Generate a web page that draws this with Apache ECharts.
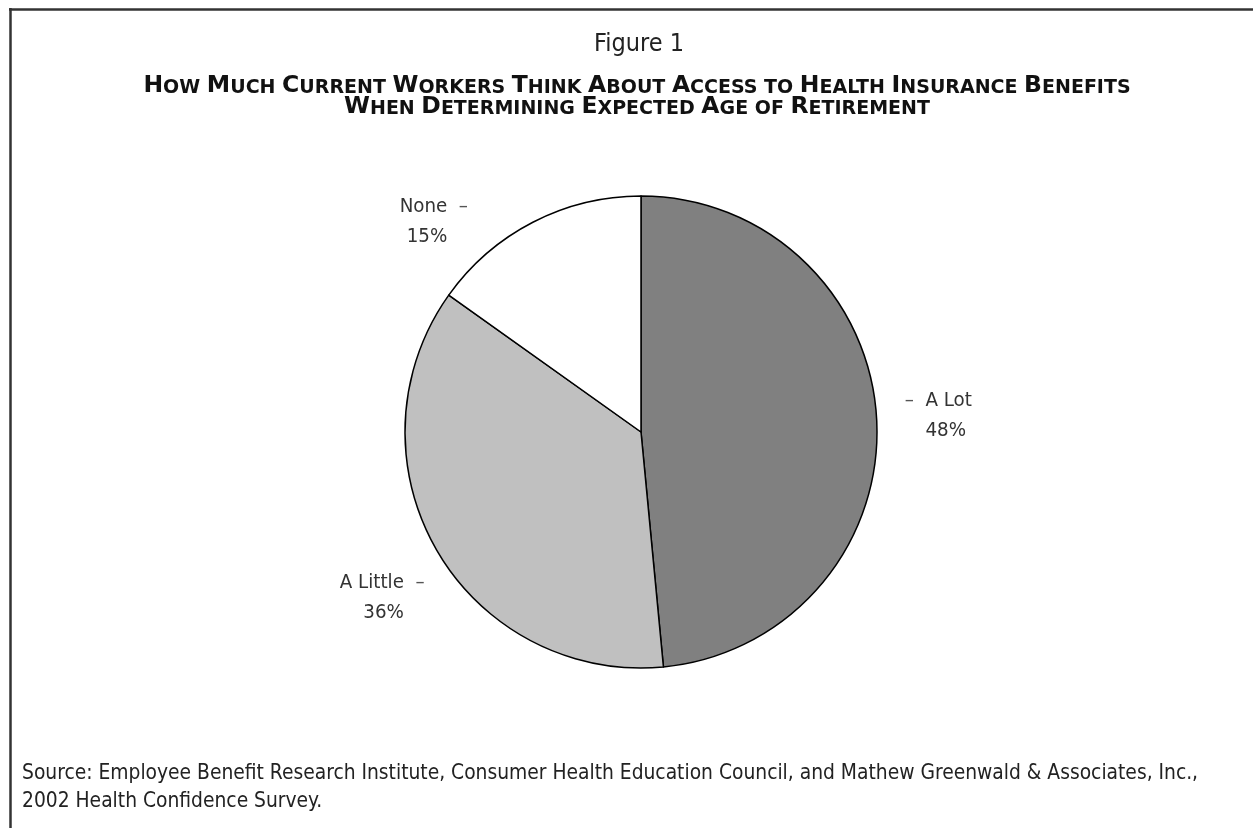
<!DOCTYPE html>
<html>
<head>
<meta charset="utf-8">
<script src="https://cdn.jsdelivr.net/npm/echarts@6/dist/echarts.min.js"></script>
<style>html,body{margin:0;padding:0;background:#fff;}#c{width:1253px;height:828px;}</style>
</head>
<body>
<div id="c"></div>
<script>
const categories = ['A Lot', 'A Little', 'None'];
const values = [48, 36, 15];
const sliceColors = ['#808080', '#c0c0c0', '#ffffff'];
const figureLabel = 'Figure 1';
const titleLines = ['How Much Current Workers Think About Access to Health Insurance Benefits', 'When Determining Expected Age of Retirement'];
const sourceLines = ['Source: Employee Benefit Research Institute, Consumer Health Education Council, and Mathew Greenwald & Associates, Inc.,', '2002 Health Confidence Survey.'];

const FONT = "'DejaVu Sans Condensed', 'Liberation Sans Narrow', 'Liberation Sans', sans-serif";
const TFONT = "'DejaVu Sans', 'Liberation Sans', sans-serif";

function smallCaps(str) {
  let out = '', cur = null, buf = '';
  const flush = () => { if (buf) out += '{' + cur + '|' + buf + '}'; buf = ''; };
  for (const ch of str) {
    let t;
    if (ch >= 'a' && ch <= 'z') t = 's'; else if (ch === ' ') t = cur || 'b'; else t = 'b';
    if (t !== cur) { flush(); cur = t; }
    buf += t === 's' ? ch.toUpperCase() : ch;
  }
  flush();
  return out;
}

const chart = echarts.init(document.getElementById('c'), null, {renderer: 'canvas'});
const labelOffsets = { 0: [0, -4], 1: [14, 40], 2: [-45, 13] };

chart.setOption({
  backgroundColor: '#ffffff',
  animation: false,
  title: [
    { text: sourceLines.join('\n'), left: 17, top: 755,
      textStyle: { fontFamily: FONT, fontWeight: 'normal', fontSize: 20.8, lineHeight: 28, color: '#222' } }
  ],
  graphic: [
    { type: 'line', shape: { x1: 9, y1: 9.5, x2: 1253, y2: 9.5 }, style: { stroke: '#333', lineWidth: 2.5 } },
    { type: 'line', shape: { x1: 10.5, y1: 8, x2: 10.5, y2: 828 }, style: { stroke: '#333', lineWidth: 2.5 } },
    { type: 'text', x: 639, y: 44, style: { text: figureLabel, fontFamily: FONT, fontSize: 25, fill: '#222', align: 'center', verticalAlign: 'middle' } },
    { type: 'text', x: 637, y: 98, style: {
        text: titleLines.map(smallCaps).join('\n'), fontFamily: TFONT, fontWeight: 'bold', fontSize: 23.5, lineHeight: 21,
        fill: '#111', align: 'center', verticalAlign: 'middle',
        rich: {
          b: { fontFamily: TFONT, fontWeight: 'bold', fontSize: 23.5, lineHeight: 21, verticalAlign: 'bottom', fill: '#111' },
          s: { fontFamily: TFONT, fontWeight: 'bold', fontSize: 19, lineHeight: 21, verticalAlign: 'bottom', fill: '#111' }
        } } }
  ],
  series: [{
    type: 'pie',
    center: [641, 432],
    radius: 236,
    startAngle: 90,
    clockwise: true,
    avoidLabelOverlap: false,
    data: categories.map((c, i) => ({ name: c, value: values[i], itemStyle: { color: sliceColors[i] } })),
    itemStyle: { borderColor: '#000', borderWidth: 1.5 },
    emphasis: { disabled: true },
    label: {
      show: true,
      position: 'outside',
      fontFamily: FONT,
      fontSize: 20.3,
      lineHeight: 30,
      color: '#333',
      formatter: p => p.dataIndex === 0
        ? '{d|–}  {n|' + p.name + '}\n{h|–}  {n|' + p.value + '%}'
        : '{n|' + p.name + '}  {d|–}\n{n|' + p.value + '%}  {h|–}',
      rich: {
        n: { fontFamily: FONT, fontSize: 20.3, lineHeight: 30, color: '#333' },
        d: { fontFamily: FONT, fontSize: 20.3, lineHeight: 30, color: '#555' },
        h: { fontFamily: FONT, fontSize: 20.3, lineHeight: 30, color: 'rgba(0,0,0,0)' }
      }
    },
    labelLine: { show: false, length: 15, length2: 8 },
    labelLayout: p => ({ dx: labelOffsets[p.dataIndex][0], dy: labelOffsets[p.dataIndex][1] })
  }]
});
</script>
</body>
</html>
